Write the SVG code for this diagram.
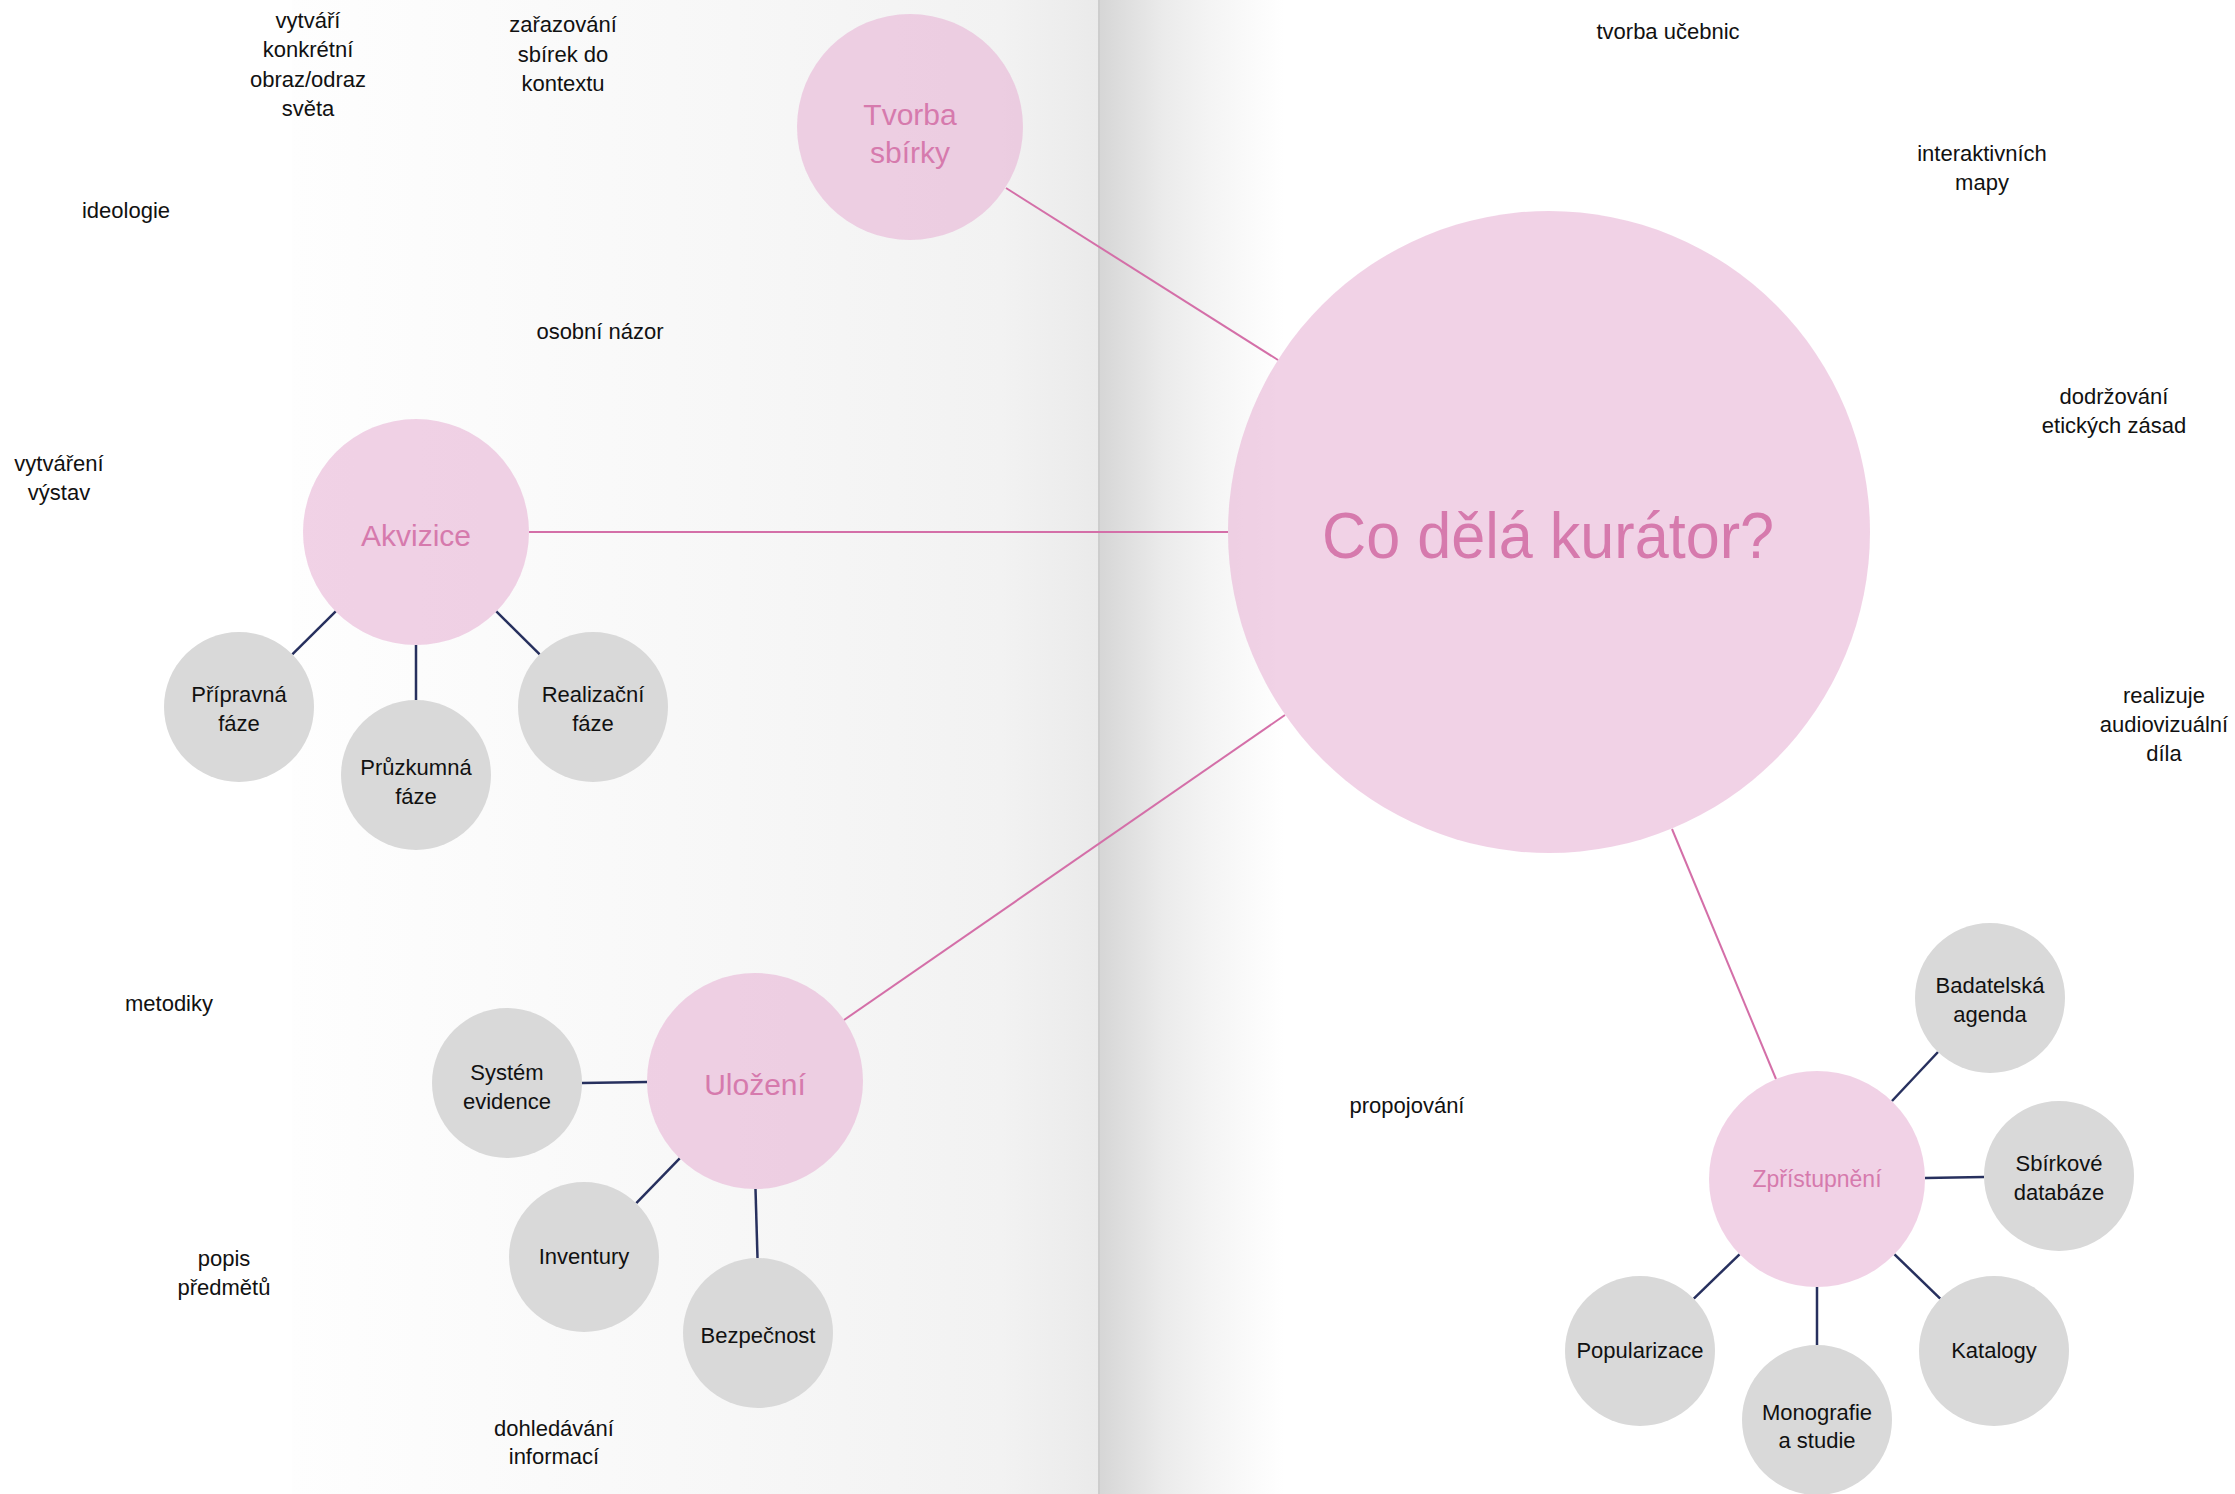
<svg xmlns="http://www.w3.org/2000/svg" width="2235" height="1494" viewBox="0 0 2235 1494">
<defs>
<linearGradient id="pageL" x1="0" y1="0" x2="1" y2="0">
<stop offset="0" stop-color="#fefefe"/>
<stop offset="0.55" stop-color="#f7f7f7"/>
<stop offset="0.88" stop-color="#f2f2f2"/>
<stop offset="1" stop-color="#eaeaea"/>
</linearGradient>
<linearGradient id="pageR" x1="0" y1="0" x2="1" y2="0">
<stop offset="0" stop-color="#d6d6d6"/>
<stop offset="0.15" stop-color="#dfdfdf"/>
<stop offset="0.35" stop-color="#ebebeb"/>
<stop offset="0.6" stop-color="#f4f4f4"/>
<stop offset="0.85" stop-color="#fbfbfb"/>
<stop offset="1" stop-color="#ffffff"/>
</linearGradient>
</defs>
<style>
.pk{fill:#e8b4d6;fill-opacity:0.6}
.gr{fill:#d9d9d9}
.pt{font-family:"Liberation Sans",Arial,sans-serif;fill:#d67aad;text-anchor:middle}
.t{font-family:"Liberation Sans",Arial,sans-serif;font-size:22px;fill:#111111;text-anchor:middle}
.lp{stroke:#d46fa8;stroke-width:2;fill:none}
.ln{stroke:#27305e;stroke-width:2.5;fill:none}
</style>
<rect x="0" y="0" width="2235" height="1494" fill="#ffffff"/>
<rect x="292" y="0" width="807" height="1494" fill="url(#pageL)"/>
<rect x="1099" y="0" width="185" height="1494" fill="url(#pageR)"/>
<rect x="1098" y="0" width="2" height="1494" fill="#cdcdcd"/>

<g id="connectors">
<line class="lp" x1="1006" y1="188" x2="1278" y2="360"/>
<line class="lp" x1="529" y1="532" x2="1228" y2="532"/>
<line class="lp" x1="844" y1="1020" x2="1285" y2="715"/>
<line class="lp" x1="1672" y1="829" x2="1776" y2="1079"/>
<line class="ln" x1="335.7" y1="611.4" x2="292.3" y2="654.3"/>
<line class="ln" x1="416" y1="645" x2="416" y2="700"/>
<line class="ln" x1="496.3" y1="611.4" x2="539.7" y2="654.3"/>
<line class="ln" x1="647" y1="1082" x2="582" y2="1083"/>
<line class="ln" x1="679.7" y1="1158.4" x2="636.3" y2="1203.2"/>
<line class="ln" x1="755.5" y1="1189" x2="757.5" y2="1258"/>
<line class="ln" x1="1892" y1="1101" x2="1938" y2="1052"/>
<line class="ln" x1="1925" y1="1178" x2="1984" y2="1177"/>
<line class="ln" x1="1894.5" y1="1254.3" x2="1940.2" y2="1298.7"/>
<line class="ln" x1="1817" y1="1287" x2="1817" y2="1345"/>
<line class="ln" x1="1739.5" y1="1254.3" x2="1693.8" y2="1298.7"/>
</g>

<g id="main">
<circle class="pk" cx="1549" cy="532" r="321"/>
<text class="pt" x="1548" y="558" font-size="64" textLength="452" lengthAdjust="spacingAndGlyphs">Co dělá kurátor?</text>
</g>
<g id="tvorba">
<circle class="pk" cx="910" cy="127" r="113"/>
<text class="pt" font-size="30"><tspan x="910" y="125">Tvorba</tspan><tspan x="910" y="163">sbírky</tspan></text>
</g>
<g id="akvizice">
<circle class="pk" cx="416" cy="532" r="113"/>
<text class="pt" x="416" y="546" font-size="30">Akvizice</text>
</g>
<g id="ulozeni">
<circle class="pk" cx="755" cy="1081" r="108"/>
<text class="pt" x="755" y="1095" font-size="30">Uložení</text>
</g>
<g id="zpristupneni">
<circle class="pk" cx="1817" cy="1179" r="108"/>
<text class="pt" x="1817" y="1187" font-size="23">Zpřístupnění</text>
</g>

<g id="pripravna">
<circle class="gr" cx="239" cy="707" r="75"/>
<text class="t"><tspan x="239" y="702">Přípravná</tspan><tspan x="239" y="731">fáze</tspan></text>
</g>
<g id="pruzkumna">
<circle class="gr" cx="416" cy="775" r="75"/>
<text class="t"><tspan x="416" y="775">Průzkumná</tspan><tspan x="416" y="804">fáze</tspan></text>
</g>
<g id="realizacni">
<circle class="gr" cx="593" cy="707" r="75"/>
<text class="t"><tspan x="593" y="702">Realizační</tspan><tspan x="593" y="731">fáze</tspan></text>
</g>
<g id="system">
<circle class="gr" cx="507" cy="1083" r="75"/>
<text class="t"><tspan x="507" y="1080">Systém</tspan><tspan x="507" y="1109">evidence</tspan></text>
</g>
<g id="inventury">
<circle class="gr" cx="584" cy="1257" r="75"/>
<text class="t" x="584" y="1264">Inventury</text>
</g>
<g id="bezpecnost">
<circle class="gr" cx="758" cy="1333" r="75"/>
<text class="t" x="758" y="1343">Bezpečnost</text>
</g>
<g id="badatelska">
<circle class="gr" cx="1990" cy="998" r="75"/>
<text class="t"><tspan x="1990" y="993">Badatelská</tspan><tspan x="1990" y="1022">agenda</tspan></text>
</g>
<g id="sbirkove">
<circle class="gr" cx="2059" cy="1176" r="75"/>
<text class="t"><tspan x="2059" y="1171">Sbírkové</tspan><tspan x="2059" y="1200">databáze</tspan></text>
</g>
<g id="katalogy">
<circle class="gr" cx="1994" cy="1351" r="75"/>
<text class="t" x="1994" y="1358">Katalogy</text>
</g>
<g id="monografie">
<circle class="gr" cx="1817" cy="1420" r="75"/>
<text class="t"><tspan x="1817" y="1420">Monografie</tspan><tspan x="1817" y="1448">a studie</tspan></text>
</g>
<g id="popularizace">
<circle class="gr" cx="1640" cy="1351" r="75"/>
<text class="t" x="1640" y="1358">Popularizace</text>
</g>

<g id="labels">
<text class="t"><tspan x="308" y="28">vytváří</tspan><tspan x="308" y="57">konkrétní</tspan><tspan x="308" y="87">obraz/odraz</tspan><tspan x="308" y="116">světa</tspan></text>
<text class="t"><tspan x="563" y="32">zařazování</tspan><tspan x="563" y="62">sbírek do</tspan><tspan x="563" y="91">kontextu</tspan></text>
<text class="t" x="126" y="218">ideologie</text>
<text class="t" x="600" y="339">osobní názor</text>
<text class="t"><tspan x="59" y="471">vytváření</tspan><tspan x="59" y="500">výstav</tspan></text>
<text class="t" x="169" y="1011">metodiky</text>
<text class="t"><tspan x="224" y="1266">popis</tspan><tspan x="224" y="1295">předmětů</tspan></text>
<text class="t"><tspan x="554" y="1436">dohledávání</tspan><tspan x="554" y="1464">informací</tspan></text>
<text class="t" x="1668" y="39">tvorba učebnic</text>
<text class="t"><tspan x="1982" y="161">interaktivních</tspan><tspan x="1982" y="190">mapy</tspan></text>
<text class="t"><tspan x="2114" y="404">dodržování</tspan><tspan x="2114" y="433">etických zásad</tspan></text>
<text class="t"><tspan x="2164" y="703">realizuje</tspan><tspan x="2164" y="732">audiovizuální</tspan><tspan x="2164" y="761">díla</tspan></text>
<text class="t" x="1407" y="1113">propojování</text>
</g>
</svg>
